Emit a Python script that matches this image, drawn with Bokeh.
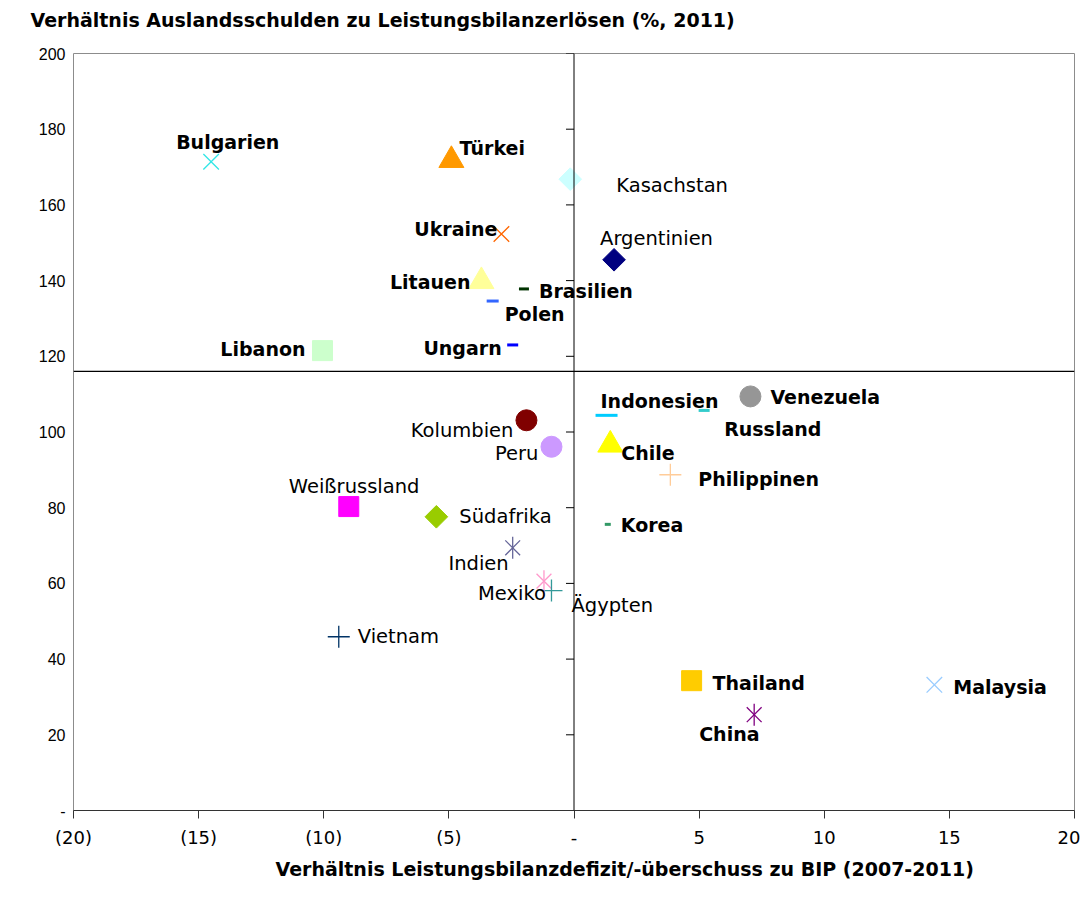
import math
from bokeh.plotting import figure
from bokeh.models import Span, FixedTicker, ColumnDataSource, Title
from bokeh.core.properties import value
from bokeh.embed import file_html
from bokeh.resources import INLINE

# ---- data ----
names = ["Bulgarien", "Türkei", "Kasachstan", "Ukraine", "Argentinien", "Litauen",
         "Brasilien", "Polen", "Libanon", "Ungarn", "Kolumbien", "Peru",
         "Weißrussland", "Südafrika", "Indien", "Mexiko", "Ägypten", "Vietnam",
         "Indonesien", "Russland", "Venezuela", "Chile", "Philippinen", "Korea",
         "Thailand", "China", "Malaysia"]
cab_gdp = [-14.5, -4.9, -0.15, -2.9, 1.6, -3.7,
           -2.0, -3.25, -10.05, -2.45, -1.9, -0.9,
           -9.0, -5.5, -2.45, -1.2, -0.9, -9.4,
           1.3, 5.2, 7.05, 1.45, 3.85, 1.35,
           4.7, 7.2, 14.4]
debt_ratio = [171.4, 171.8, 166.8, 152.3, 145.5, 139.8,
              137.8, 134.6, 121.5, 123.0, 103.1, 96.1,
              80.3, 77.6, 69.4, 60.6, 58.1, 45.9,
              104.4, 105.7, 109.4, 96.6, 88.7, 75.6,
              34.3, 25.3, 33.2]
x_ticks = [-20, -15, -10, -5, 0, 5, 10, 15, 20]
x_tick_labels = ["(20)", "(15)", "(10)", "(5)", "-", "5", "10", "15", "20"]
y_ticks = [0, 20, 40, 60, 80, 100, 120, 140, 160, 180, 200]
y_tick_labels = ["-", "20", "40", "60", "80", "100", "120", "140", "160", "180", "200"]
divider_y = 116
title_text = "Verhältnis Auslandsschulden zu Leistungsbilanzerlösen (%, 2011)"
x_title_text = "Verhältnis Leistungsbilanzdefizit/-überschuss zu BIP (2007-2011)"

# ---- styles (not data) ----
kind = ["x", "tri", "dia", "x", "dia", "tri",
        "dash", "dash", "sq", "dash", "circ", "circ",
        "sq", "dia", "star", "star", "plus", "plus",
        "dash", "dash", "circ", "tri", "plus", "dash",
        "sq", "star", "x"]
colors = ["#33E6E6", "#FF9900", "#CCFFFF", "#FF6600", "#000080", "#FFFF99",
          "#003300", "#3366FF", "#CCFFCC", "#0000FF", "#800000", "#CC99FF",
          "#FF00FF", "#99CC00", "#666699", "#FF99CC", "#339999", "#003366",
          "#00CCFF", "#33CCCC", "#969696", "#FFFF00", "#FFCC99", "#339966",
          "#FFCC00", "#800080", "#99CCFF"]
dash_len = {"Brasilien": 10, "Polen": 12, "Ungarn": 11, "Indonesien": 22,
            "Russland": 11, "Korea": 6}
bold = [True, True, False, True, False, True,
        True, True, True, True, False, False,
        False, False, False, False, False, False,
        True, True, True, True, True, True,
        True, True, True]
# label offsets in screen pixels (dx, dy, align)
label_pos = [(-35, -20, "left"), (8, -12, "left"), (46, 6, "left"), (-4, -5, "right"),
             (-14, -21, "left"), (-11, 1, "right"), (15, 2, "left"), (12, 13, "left"),
             (-17, -2, "right"), (-11, 3, "right"), (-13, 10, "right"), (-13, 7, "right"),
             (-60, -20, "left"), (23, 0, "left"), (-4, 16, "right"), (2, 12, "right"),
             (20, 15, "left"), (19, 0, "left"), (-6, -14, "left"), (20, 19, "left"),
             (20, 1, "left"), (11, 8, "left"), (28, 4, "left"), (13, 1, "left"),
             (21, 2, "left"), (-55, 19, "left"), (19, 2, "left")]

marker_map = {"x": "x", "tri": "triangle", "dia": "square", "dash": "dash",
              "sq": "square", "circ": "circle", "star": "x", "plus": "cross"}
size_map = {"x": 22, "tri": 25, "dia": 16, "sq": 20, "circ": 21, "star": 21, "plus": 22}
lw_map = {"x": 1.3, "tri": 1, "dia": 1, "dash": 3, "sq": 1, "circ": 1, "star": 1.3, "plus": 1.3}

m_marker, m_size, m_lw, m_angle = [], [], [], []
for n, k in zip(names, kind):
    m_marker.append(marker_map[k])
    m_size.append(dash_len[n] if k == "dash" else size_map[k])
    m_lw.append(lw_map[k])
    m_angle.append(math.pi / 4 if k == "dia" else 0.0)

src = ColumnDataSource(dict(x=cab_gdp, y=debt_ratio, marker=m_marker, size=m_size,
                            lw=m_lw, angle=m_angle, color=colors))

p = figure(width=1080, height=900, x_range=(-20, 20), y_range=(0, 200),
           output_backend="svg", toolbar_location=None,
           min_border_left=73, min_border_right=6, min_border_top=53, min_border_bottom=90)
p.grid.visible = False
p.outline_line_color = "#8c8c8c"
p.background_fill_color = "white"
p.border_fill_color = "white"

# chart title (outermost) plus a thin spacer panel next to the frame
p.title = Title(text=title_text, align="left", offset=-43, text_font="DejaVu Sans",
                text_font_size="19px", text_font_style="bold", text_color="black",
                vertical_align="top", standoff=14)
p.add_layout(Title(text=" ", text_font_size="1px", standoff=11), "above")

# x axis
xa = p.xaxis[0]
xa.ticker = FixedTicker(ticks=x_ticks)
xa.major_label_overrides = dict(zip(x_ticks, x_tick_labels))
xa.major_tick_out = 8
xa.major_tick_in = 0
xa.minor_tick_line_color = None
xa.axis_line_color = "#333333"
xa.major_tick_line_color = "#333333"
xa.major_label_standoff = 8
xa.major_label_text_font = "DejaVu Sans"
xa.major_label_text_font_size = "18px"
xa.major_label_text_color = "black"

p.add_layout(Title(text=x_title_text,
                   align="left", offset=202, text_font="DejaVu Sans", text_font_size="19px",
                   text_font_style="bold", text_color="black", standoff=10), "below")

# y axis (labels only at left)
ya = p.yaxis[0]
ya.ticker = FixedTicker(ticks=y_ticks)
ya.major_label_overrides = dict(zip(y_ticks, y_tick_labels))
ya.major_tick_out = 0
ya.major_tick_in = 0
ya.major_tick_line_color = None
ya.minor_tick_line_color = None
ya.axis_line_color = None
ya.major_label_standoff = 8
ya.major_label_text_font = "Liberation Sans"
ya.major_label_text_font_size = "16px"
ya.major_label_text_color = "black"

# crossing lines
p.add_layout(Span(location=0, dimension="height", line_color="black", line_width=1))
p.add_layout(Span(location=divider_y, dimension="width", line_color="black", line_width=1.3))
# y ticks drawn on the vertical zero line
p.segment(x0=[-0.32] * len(y_ticks), x1=[0] * len(y_ticks), y0=y_ticks, y1=y_ticks,
          line_color="black", line_width=1)

# markers
p.scatter(x="x", y="y", marker="marker", size="size", angle="angle", source=src,
          fill_color="color", line_color="color", line_width="lw")
# vertical stroke for star markers
sx = [cab_gdp[i] for i, k in enumerate(kind) if k == "star"]
sy = [debt_ratio[i] for i, k in enumerate(kind) if k == "star"]
sc = [colors[i] for i, k in enumerate(kind) if k == "star"]
p.scatter(x=sx, y=sy, marker="dash", size=22, angle=math.pi / 2, line_color=sc, line_width=1.3)

# labels
for is_bold in (True, False):
    idx = [i for i in range(len(names)) if bold[i] == is_bold]
    for align in ("left", "right"):
        j = [i for i in idx if label_pos[i][2] == align]
        if not j:
            continue
        s = ColumnDataSource(dict(x=[cab_gdp[i] for i in j], y=[debt_ratio[i] for i in j],
                                  t=[names[i] for i in j],
                                  dx=[label_pos[i][0] for i in j],
                                  dy=[label_pos[i][1] for i in j]))
        p.text(x="x", y="y", text="t", x_offset="dx", y_offset="dy", source=s,
               text_align=align, text_baseline="middle",
               text_font=value("DejaVu Sans"),
               text_font_size="19px" if is_bold else "19.5px",
               text_font_style="bold" if is_bold else "normal",
               text_color="black")

open("out.html", "w").write(file_html(p, INLINE))
